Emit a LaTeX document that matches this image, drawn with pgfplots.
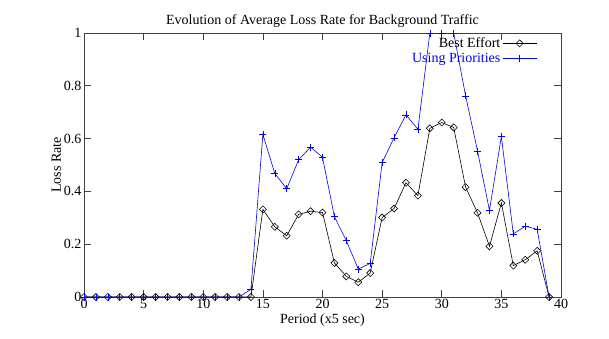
\documentclass[border=0pt]{standalone}
\usepackage{pgfplots}
\pgfplotsset{compat=1.18}
\usepackage{fontspec}
\setmainfont{Liberation Serif}
\begin{document}
\begin{tikzpicture}[x=1pt,y=1pt]
\path[use as bounding box] (0,0) rectangle (609,338);
\begin{axis}[
  at={(84pt,41pt)}, anchor=south west,
  width=477pt, height=264pt, scale only axis,
  xmin=0, xmax=40, ymin=0, ymax=1,
  xtick={0,5,...,40}, ytick={0,0.2,0.4,0.6,0.8,1},
  tick align=inside, tick pos=both,
  major tick length=7pt,
  axis line style={line width=0.9pt, black!75},
  every tick/.style={black!75, line width=0.7pt},
  /pgf/number format/assume math mode=true,
  tick label style={font=\fontsize{14}{16}\selectfont},
  yticklabel style={/pgf/number format/fixed, xshift=1pt},
  xticklabel style={yshift=1pt},
  label style={font=\fontsize{14}{16}\selectfont},
  title style={font=\fontsize{14}{16}\selectfont, yshift=-4pt},
  title={Evolution of Average Loss Rate for Background Traffic},
  xlabel={Period (x5 sec)},
  ylabel={Loss Rate},
  xlabel style={yshift=2pt},
  ylabel style={yshift=-4pt},
  legend style={draw=none, fill=none, at={(0.95,0.985)}, anchor=north east,
    font=\fontsize{14}{14}\selectfont, row sep=3pt, inner sep=0pt,
    nodes={inner ysep=0.5pt},
    /tikz/every even column/.append style={column sep=4pt}},
  legend cell align=right,
  legend plot pos=right,
  legend image code/.code={\draw[mark repeat=2,mark phase=2] plot coordinates {(0pt,0pt)(17pt,0pt)(34pt,0pt)};},
]
\addplot[black, line width=0.6pt, mark=square, mark size=2.5pt, mark options={solid, rotate=45, fill=white, line width=0.6pt}] coordinates {
(0,0)(1,0)(2,0)(3,0)(4,0)(5,0)(6,0)(7,0)(8,0)(9,0)(10,0)(11,0)(12,0)(13,0)
(14,0)(15,0.332)(16,0.266)(17,0.232)(18,0.313)(19,0.325)(20,0.320)
(21,0.129)(22,0.078)(23,0.056)(24,0.091)(25,0.301)(26,0.335)(27,0.433)
(28,0.384)(29,0.639)(30,0.661)(31,0.642)(32,0.416)(33,0.319)(34,0.192)
(35,0.356)(36,0.119)(37,0.141)(38,0.175)(39,0)
};
\addlegendentry{Best Effort}
\addplot[blue, line width=0.6pt, mark=+, mark size=3.5pt, mark options={solid, line width=0.6pt}] coordinates {
(0,0)(1,0)(2,0)(3,0)(4,0)(5,0)(6,0)(7,0)(8,0)(9,0)(10,0)(11,0)(12,0)(13,0)
(14,0.029)(15,0.616)(16,0.468)(17,0.410)(18,0.520)(19,0.568)(20,0.529)
(21,0.304)(22,0.213)(23,0.106)(24,0.127)(25,0.509)(26,0.603)(27,0.690)
(28,0.635)(29,1.0)(30,1.0)(31,1.0)(32,0.762)(33,0.553)(34,0.328)
(35,0.608)(36,0.239)(37,0.268)(38,0.257)(39,0)
};
\addlegendentry{\textcolor{blue}{Using Priorities}}
\end{axis}
\end{tikzpicture}
\end{document}
